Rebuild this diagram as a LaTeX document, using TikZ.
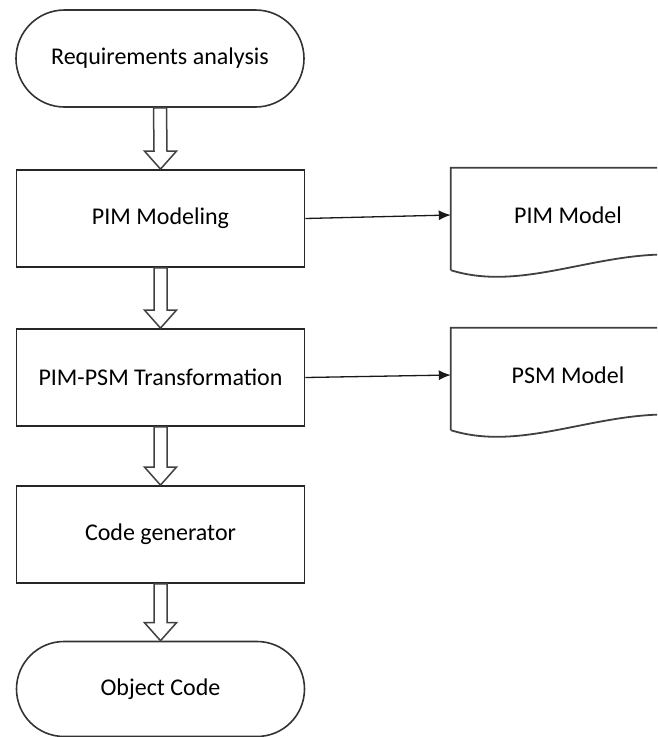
\documentclass[tikz,border=0pt]{standalone}
\usepackage{fontspec}
\setmainfont{Carlito}
\usetikzlibrary{shapes.misc, arrows.meta}
\tikzset{
	terminal/.style = {rounded rectangle, draw=black!80, line width=1.6pt, minimum width=288pt, minimum height=97pt, inner sep=0pt, font=\fontsize{24}{28}\selectfont},
	process/.style = {rectangle, draw=black!85, line width=1.8pt, minimum width=288pt, minimum height=97pt, inner sep=0pt, font=\fontsize{24}{28}\selectfont},
	docnode/.style = {rectangle, minimum width=234pt, minimum height=94pt, inner sep=0pt, font=\fontsize{24}{28}\selectfont},
	docline/.style = {draw=black!75, line width=1.8pt},
	hollow/.style = {draw=black!75, fill=white, line width=1.5pt, line join=miter},
	flowarrow/.style = {draw=black!90, line width=1.3pt, -{Latex[length=12pt, width=10pt]}}
}
% hollow block arrow from the bottom of #1 to the top of #2
\newcommand{\hollowlink}[2]{%
	\draw[hollow] ([xshift=-6.5pt]#1.south) -- ([xshift=-6.5pt, yshift=18pt]#2.north) -- ([xshift=-16pt, yshift=18pt]#2.north) -- (#2.north) -- ([xshift=16pt, yshift=18pt]#2.north) -- ([xshift=6.5pt, yshift=18pt]#2.north) -- ([xshift=6.5pt]#1.south) -- cycle;}
% wavy document outline round node #1
\newcommand{\docshape}[1]{%
	\draw[docline] ([yshift=-8pt]#1.south west) -- (#1.north west) -- (#1.north east) -- ([yshift=7pt]#1.south east) .. controls +(-85,-7) and +(74,23) .. ([yshift=-8pt]#1.south west);}

\begin{document}
\begin{tikzpicture}[x=1pt, y=-1pt]
	\useasboundingbox (0,0) rectangle (657,737);
	\clip (0,0) rectangle (657,737);
	% ====== Flow ========
	\node[terminal] (req) at (160,58.5) {Requirements analysis};
	\node[process] (pim) at (160.5,218.5) {PIM Modeling};
	\node[process] (trans) at (160.5,377.5) {PIM-PSM Transformation};
	\node[process] (codegen) at (160.5,534.5) {Code generator};
	\node[terminal, minimum height=95pt] (objcode) at (160.5,689) {Object Code};
	% ====== Documents ========
	\node[docnode] (pimdoc) at (568,215) {PIM Model};
	\node[docnode] (psmdoc) at (568,375) {PSM Model};
	\docshape{pimdoc}
	\docshape{psmdoc}
	% ====== Links ========
	\hollowlink{req}{pim}
	\hollowlink{pim}{trans}
	\hollowlink{trans}{codegen}
	\hollowlink{codegen}{objcode}
	\draw[flowarrow] (pim.east) -- (pimdoc.west);
	\draw[flowarrow] (trans.east) -- (psmdoc.west);
\end{tikzpicture}
\end{document}
